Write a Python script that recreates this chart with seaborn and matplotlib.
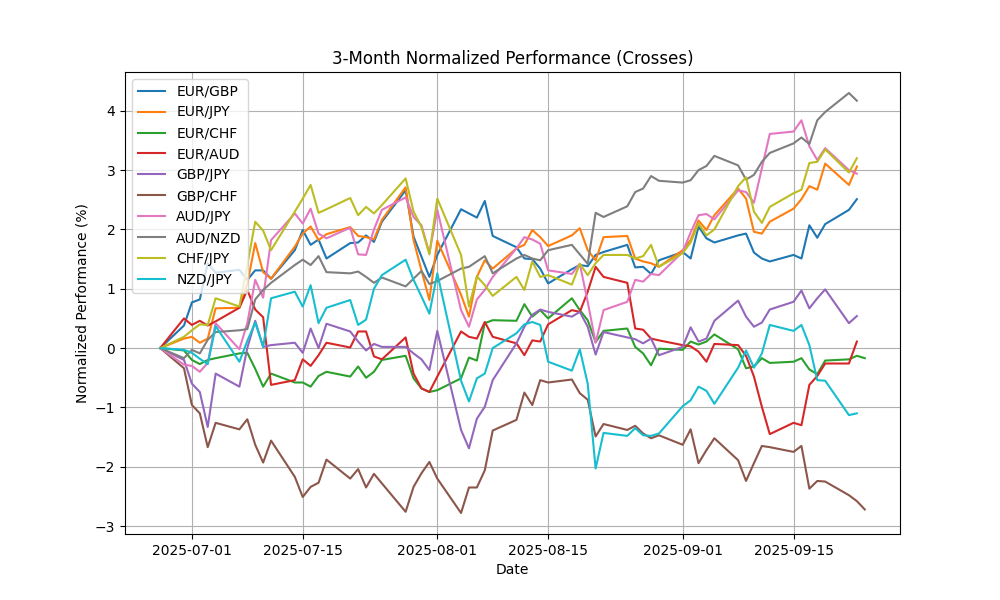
import pandas as pd
import matplotlib
matplotlib.use("Agg")
import matplotlib.pyplot as plt
import seaborn as sns

# business days, last one only for the two CHF crosses
dates = pd.bdate_range("2025-06-27", "2025-09-24")

eur_gbp = [0, 0.38, 0.77, 0.82, 1.43, 1.27, 1.32, 1.15, 1.31, 1.31, 1.17, 1.65, 1.99, 1.74, 1.83, 1.51,
           1.77, 1.78, 1.90, 1.79, 2.13, 2.66, 1.88, 1.54, 1.20, 1.57, 2.34, 2.27, 2.20, 2.48, 1.89,
           1.70, 1.51, 1.50, 1.34, 1.09, 1.33, 1.40, 1.38, 1.57, 1.62, 1.74, 1.36, 1.37, 1.25, 1.48,
           1.62, 1.51, 2.05, 1.85, 1.78, 1.90, 1.93, 1.61, 1.51, 1.46, 1.57, 1.51, 2.07, 1.86, 2.09,
           2.33, 2.51]
eur_jpy = [0, 0.16, 0.19, 0.09, 0.16, 0.67, 0.68, 1.08, 1.77, 1.28, 1.17, 1.71, 1.93, 2.05, 1.82, 1.92,
           2.04, 1.89, 1.87, 1.83, 2.16, 2.71, 1.82, 1.31, 0.81, 1.81, 0.90, 0.53, 1.20, 1.48, 1.34,
           1.68, 1.74, 1.99, 1.87, 1.72, 1.90, 2.02, 1.65, 1.48, 1.87, 1.89, 1.51, 1.46, 1.43, 1.37,
           1.65, 1.82, 2.15, 1.99, 2.24, 2.69, 2.52, 1.96, 1.93, 2.13, 2.35, 2.51, 2.73, 2.67, 3.11,
           2.75, 3.06]
eur_chf = [0, -0.04, -0.20, -0.27, -0.20, -0.17, -0.09, -0.08, -0.35, -0.65, -0.43, -0.58, -0.58, -0.65,
           -0.47, -0.40, -0.48, -0.31, -0.50, -0.40, -0.20, -0.13, -0.51, -0.68, -0.74, -0.71, -0.51,
           -0.16, -0.21, 0.42, 0.47, 0.46, 0.74, 0.53, 0.64, 0.50, 0.84, 0.64, 0.47, 0.10, 0.29, 0.33,
           0.02, -0.09, -0.29, -0.01, -0.03, 0.11, 0.06, 0.11, 0.23, -0.02, -0.34, -0.31, -0.17, -0.25,
           -0.23, -0.17, -0.36, -0.44, -0.21, -0.19, -0.13, -0.17]
eur_aud = [0, 0.50, 0.39, 0.46, 0.38, 0.45, 0.68, 0.98, 0.65, 0.52, -0.62, -0.54, -0.19, -0.30, -0.12,
           0.09, 0.01, 0.28, 0.28, -0.14, -0.19, 0.18, -0.43, -0.68, -0.74, -0.48, 0.28, 0.19, 0.16,
           0.44, 0.19, 0.08, -0.12, 0.13, 0.11, 0.40, 0.64, 0.61, 0.95, 1.37, 1.20, 1.10, 0.33, 0.31,
           0.16, 0.13, 0.05, 0.03, -0.06, -0.23, 0.07, 0.05, -0.13, -0.48, -0.99, -1.45, -1.26, -1.30,
           -0.62, -0.47, -0.26, -0.26, 0.11]
gbp_jpy = [0, -0.20, -0.60, -0.74, -1.33, -0.43, -0.65, 0.0, 0.46, 0.02, 0.05, 0.09, -0.08, 0.33, 0.0,
           0.41, 0.28, 0.11, -0.04, 0.07, 0.02, 0.02, -0.09, -0.19, -0.37, 0.29, -1.38, -1.69, -1.19,
           -0.99, -0.54, 0.08, 0.36, 0.56, 0.65, 0.61, 0.53, 0.61, 0.36, -0.11, 0.27, 0.18, 0.15, 0.08,
           0.16, -0.12, 0.02, 0.35, 0.11, 0.16, 0.46, 0.80, 0.53, 0.36, 0.43, 0.65, 0.78, 0.97, 0.67,
           0.84, 0.99, 0.42, 0.54]
gbp_chf = [0, -0.34, -0.96, -1.10, -1.67, -1.26, -1.37, -1.20, -1.63, -1.93, -1.56, -2.17, -2.51, -2.34,
           -2.27, -1.88, -2.20, -2.04, -2.35, -2.12, -2.28, -2.76, -2.34, -2.11, -1.92, -2.20, -2.78,
           -2.35, -2.35, -2.06, -1.39, -1.21, -0.75, -0.96, -0.54, -0.58, -0.53, -0.76, -0.87, -1.49,
           -1.28, -1.38, -1.31, -1.44, -1.52, -1.47, -1.63, -1.37, -1.94, -1.72, -1.52, -1.89, -2.24,
           -1.94, -1.65, -1.67, -1.75, -1.65, -2.37, -2.24, -2.25, -2.48, -2.58, -2.72]
aud_jpy = [0, -0.28, -0.30, -0.40, -0.25, 0.42, -0.02, 0.42, 1.15, 0.85, 1.82, 2.27, 2.10, 2.35, 1.93,
           1.85, 2.03, 1.58, 1.57, 2.00, 2.33, 2.54, 2.21, 2.07, 1.60, 2.33, 0.64, 0.36, 0.82, 0.98,
           1.20, 1.68, 1.87, 1.83, 1.76, 1.31, 1.25, 1.42, 0.78, 0.09, 0.64, 0.78, 1.15, 1.12, 1.25,
           1.23, 1.62, 1.95, 2.24, 2.26, 2.17, 2.66, 2.63, 2.45, 3.03, 3.61, 3.65, 3.84, 3.40, 3.17,
           3.37, 3.00, 2.94]
aud_nzd = [0, -0.17, -0.03, -0.09, 0.14, 0.27, 0.30, 0.32, 0.82, 0.98, 1.10, 1.40, 1.49, 1.40, 1.55,
           1.28, 1.26, 1.29, 1.20, 1.10, 1.19, 1.04, 1.17, 1.30, 1.08, 1.13, 1.34, 1.37, 1.46, 1.55,
           1.26, 1.51, 1.57, 1.51, 1.48, 1.65, 1.74, 1.58, 1.42, 2.28, 2.21, 2.39, 2.63, 2.69, 2.90,
           2.82, 2.79, 2.83, 3.00, 3.07, 3.24, 3.08, 2.84, 2.92, 3.14, 3.29, 3.45, 3.55, 3.44, 3.84,
           3.98, 4.30, 4.17]
chf_jpy = [0, 0.19, 0.30, 0.40, 0.39, 0.84, 0.70, 1.40, 2.13, 1.98, 1.65, 2.30, 2.52, 2.75, 2.28, 2.34,
           2.53, 2.24, 2.38, 2.27, 2.41, 2.86, 2.30, 2.04, 1.58, 2.52, 1.57, 0.70, 1.21, 1.06, 0.88,
           1.20, 0.98, 1.46, 1.20, 1.23, 1.07, 1.42, 1.23, 1.43, 1.57, 1.57, 1.51, 1.55, 1.74, 1.37,
           1.60, 1.78, 2.10, 1.90, 2.00, 2.73, 2.88, 2.30, 2.11, 2.38, 2.61, 2.67, 3.12, 3.14, 3.35,
           2.96, 3.20]
nzd_jpy = [0, -0.03, -0.08, -0.18, -0.27, 0.37, -0.23, 0.12, 0.43, 0.02, 0.84, 0.95, 0.70, 1.06, 0.42,
           0.68, 0.81, 0.39, 0.48, 1.00, 1.23, 1.49, 1.15, 0.87, 0.58, 1.26, -0.55, -0.90, -0.51,
           -0.43, 0.0, 0.25, 0.40, 0.44, 0.39, -0.23, -0.38, -0.02, -0.60, -2.03, -1.43, -1.48, -1.35,
           -1.47, -1.48, -1.44, -0.98, -0.88, -0.65, -0.72, -0.94, -0.33, -0.04, -0.33, -0.09, 0.39,
           0.29, 0.39, 0.05, -0.54, -0.55, -1.13, -1.10]

pairs = ["EUR/GBP", "EUR/JPY", "EUR/CHF", "EUR/AUD", "GBP/JPY",
         "GBP/CHF", "AUD/JPY", "AUD/NZD", "CHF/JPY", "NZD/JPY"]
series = [eur_gbp, eur_jpy, eur_chf, eur_aud, gbp_jpy,
          gbp_chf, aud_jpy, aud_nzd, chf_jpy, nzd_jpy]

colors = sns.color_palette("tab10", 10)

fig, ax = plt.subplots(figsize=(10, 6), dpi=100)
for name, vals, c in zip(pairs, series, colors):
    sns.lineplot(x=dates[:len(vals)], y=vals, label=name, color=c, ax=ax)

ax.set_title("3-Month Normalized Performance (Crosses)")
ax.set_xlabel("Date")
ax.set_ylabel("Normalized Performance (%)")
ax.grid(True)
ax.legend(loc="upper left")

plt.savefig("out.png", dpi=100)
